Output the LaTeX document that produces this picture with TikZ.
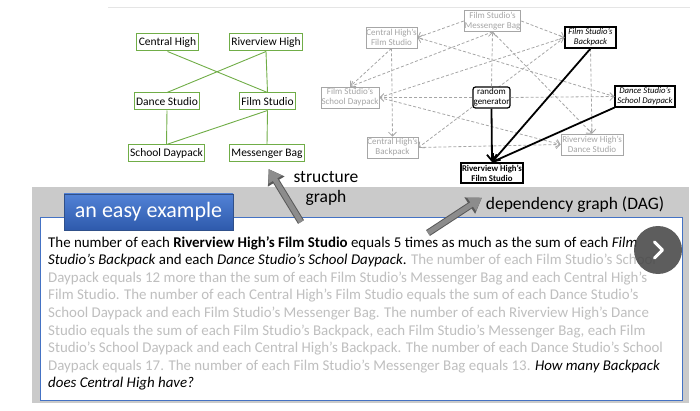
\documentclass[tikz,border=0pt]{standalone}
\usepackage{fontspec}
\setmainfont{Carlito}
\usetikzlibrary{arrows.meta}

\definecolor{sgreen}{HTML}{70AD47}
\definecolor{dagray}{HTML}{A6A6A6}
\definecolor{dimtext}{HTML}{BFBFBF}
\definecolor{boxblue}{HTML}{4472C4}
\definecolor{panelgray}{HTML}{CACACA}

\begin{document}
\begin{tikzpicture}[
        x=1pt, y=-1pt,
        sgnode/.style={
            rectangle,
            draw=sgreen,
            line width=1pt,
            fill=white,
            inner sep=2pt,
            minimum height=17pt,
            font=\fontsize{11.5}{13}\selectfont
        },
        sgedge/.style={
            draw=sgreen,
            line width=0.9pt
        },
        dagnode/.style={
            rectangle,
            draw=dagray,
            text=dagray,
            fill=white,
            line width=0.8pt,
            inner sep=0.5pt,
            minimum height=21pt,
            align=center,
            font=\fontsize{9}{10}\selectfont
        },
        known/.style={
            draw=black,
            text=black,
            line width=1.2pt,
            font=\fontsize{8.7}{10}\selectfont\itshape
        },
        dagedge/.style={
            draw=dagray,
            line width=0.8pt,
            dash pattern=on 3pt off 2pt,
            -{Straight Barb[length=4pt,width=8pt]}
        },
        solvedge/.style={
            draw=black,
            line width=1.8pt,
            -{Straight Barb[length=6pt,width=10pt]}
        },
        blockarrow/.style={
            preaction={draw=black!65, line width=7pt, -{Triangle[length=14.5pt,width=18.5pt]}},
            draw=black!45,
            line width=5pt,
            shorten >=1.3pt,
            -{Triangle[length=12.3pt,width=15pt]}
        }
    ]

        \useasboundingbox (0,0) rectangle (700,411);
        \draw[black!10, line width=0.5pt] (108,7) -- (690,7);

        % structure graph
        \node[sgnode] (ch) at (167.5,42.5) {Central High};
        \node[sgnode] (rh) at (266,42.5) {Riverview High};
        \node[sgnode] (ds) at (167,101.5) {Dance Studio};
        \node[sgnode] (fs) at (267.5,101.5) {Film Studio};
        \node[sgnode] (sd) at (166.5,153.5) {School Daypack};
        \node[sgnode] (mb) at (267,153.5) {Messenger Bag};

        \draw[sgedge] (ch.south) -- (fs.north);
        \draw[sgedge] (rh.south) -- (ds.north);
        \draw[sgedge] (rh.south) -- (fs.north);
        \draw[sgedge] (ds.south) -- (sd.north);
        \draw[sgedge] (fs.south) -- (sd.north);
        \draw[sgedge] (fs.south) -- (mb.north);

        % dependency graph
        \node[dagnode, minimum width=55pt] (dmb) at (492.5,21) {Film Studio's\\Messenger Bag};
        \node[dagnode, minimum width=51pt] (dchfs) at (391.5,37.5) {Central High's\\Film Studio};
        \node[dagnode, known, minimum width=51pt] (dfsb) at (590.5,37.5) {Film Studio's\\Backpack};
        \node[dagnode, minimum width=56pt] (dfssd) at (350,97.5) {Film Studio's\\School Daypack};
        \node[dagnode, known, minimum width=60pt] (ddssd) at (645,96.5) {Dance Studio's\\School Daypack};
        \node[dagnode, minimum width=51pt] (dchb) at (392.5,147.5) {Central High's\\Backpack};
        \node[dagnode, minimum width=62pt] (drhds) at (592,144.5) {Riverview High's\\Dance Studio};
        \node[dagnode, draw=black, text=black, line width=1.8pt, minimum width=62pt, minimum height=20pt,
            font=\fontsize{8.8}{10}\selectfont\bfseries] (drhfs) at (492,173) {Riverview High's\\Film Studio};

        \draw[dagedge] (dfsb.west) -- (dchb.east);

        \node[dagnode, draw=black, text=black, line width=1.2pt, rounded corners=2.5pt,
            minimum width=37pt] (rand) at (491.5,97.5) {random\\generator};

        \draw[dagedge] (dmb.west) -- (dchfs.east);
        \draw[dagedge] (ddssd.west) -- (dchfs.east);
        \draw[dagedge] (dmb.east) -- (dfsb.west);
        \draw[dagedge] (dfssd.east) -- (dfsb.west);
        \draw[dagedge] (dmb.south) -- (dfssd.north);
        \draw[dagedge] (dchfs.south) -- (dfssd.north);
        \draw[dagedge] (dchfs.south) -- (dchb.north);
        \draw[dagedge] (rand.north) -- (dmb.south);
        \draw[dagedge] (rand.west) -- (dfssd.east);
        \draw[dagedge] (rand.east) -- (ddssd.west);
        \draw[dagedge] (dmb.south) -- (drhds.north);
        \draw[dagedge] (dfsb.south) -- (drhds.north);
        \draw[dagedge] (dfssd.east) -- (drhds.west);
        \draw[dagedge] (dchb.east) -- (drhds.west);

        \draw[solvedge] (rand.south) -- (drhfs.north);
        \draw[solvedge] (dfsb.south) -- (drhfs.north);
        \draw[solvedge] (ddssd.south west) -- (drhfs.north);

        % problem panel
        \fill[panelgray] (32,187) rectangle (689,403);
        \draw[boxblue, fill=white, line width=0.8pt] (40,217) rectangle (682,400);

        \node[anchor=north west, inner sep=0pt, align=left,
            font=\fontsize{14.9}{17.6}\selectfont] (problem) at (48,236) {%
            The number of each \textbf{Riverview High's Film Studio} equals 5 times as much as the sum of each \textit{Film}\\
            \textit{Studio's Backpack} and each \textit{Dance Studio's School Daypack}. \textcolor{dimtext}{The number of each Film Studio's School}\\
            \textcolor{dimtext}{Daypack equals 12 more than the sum of each Film Studio's Messenger Bag and each Central High's}\\
            \textcolor{dimtext}{Film Studio. The number of each Central High's Film Studio equals the sum of each Dance Studio's}\\
            \textcolor{dimtext}{School Daypack and each Film Studio's Messenger Bag. The number of each Riverview High's Dance}\\
            \textcolor{dimtext}{Studio equals the sum of each Film Studio's Backpack, each Film Studio's Messenger Bag, each Film}\\
            \textcolor{dimtext}{Studio's School Daypack and each Central High's Backpack. The number of each Dance Studio's School}\\
            \textcolor{dimtext}{Daypack equals 17. The number of each Film Studio's Messenger Bag equals 13.} \textit{How many Backpack}\\
            \textit{does Central High have?}};

        \node[draw=boxblue!70!black, line width=0.5pt,
            top color={rgb,255:red,82;green,130;blue,214}, bottom color={rgb,255:red,46;green,90;blue,172},
            text=white, minimum width=169pt, minimum height=36pt, inner sep=0pt,
            font=\fontsize{22}{25}\selectfont] (tab) at (148.5,212) {an easy example};

        \node[circle, fill=black!72, fill opacity=0.88, minimum size=48pt, inner sep=0pt] (next) at (658,250) {};
        \draw[white, line width=3pt, line cap=round, line join=round]
            ([xshift=-3.5pt, yshift=8pt]next.center) -- ([xshift=4.5pt]next.center) -- ([xshift=-3.5pt, yshift=-8pt]next.center);

        % labels and pointers
        \node[align=center, font=\fontsize{17.5}{20}\selectfont] (sglabel) at (326,188) {structure\\graph};
        \node[font=\fontsize{17.5}{20}\selectfont] (deplabel) at (575,205) {dependency graph (DAG)};

        \coordinate (sgtail) at (301,222);
        \coordinate (sgtip) at (268,168);
        \coordinate (dgtail) at (428,233);
        \coordinate (dgtip) at (483,197);
        \draw[blockarrow] (sgtail) -- (sgtip);
        \draw[blockarrow] (dgtail) -- (dgtip);

    \end{tikzpicture}
\end{document}
